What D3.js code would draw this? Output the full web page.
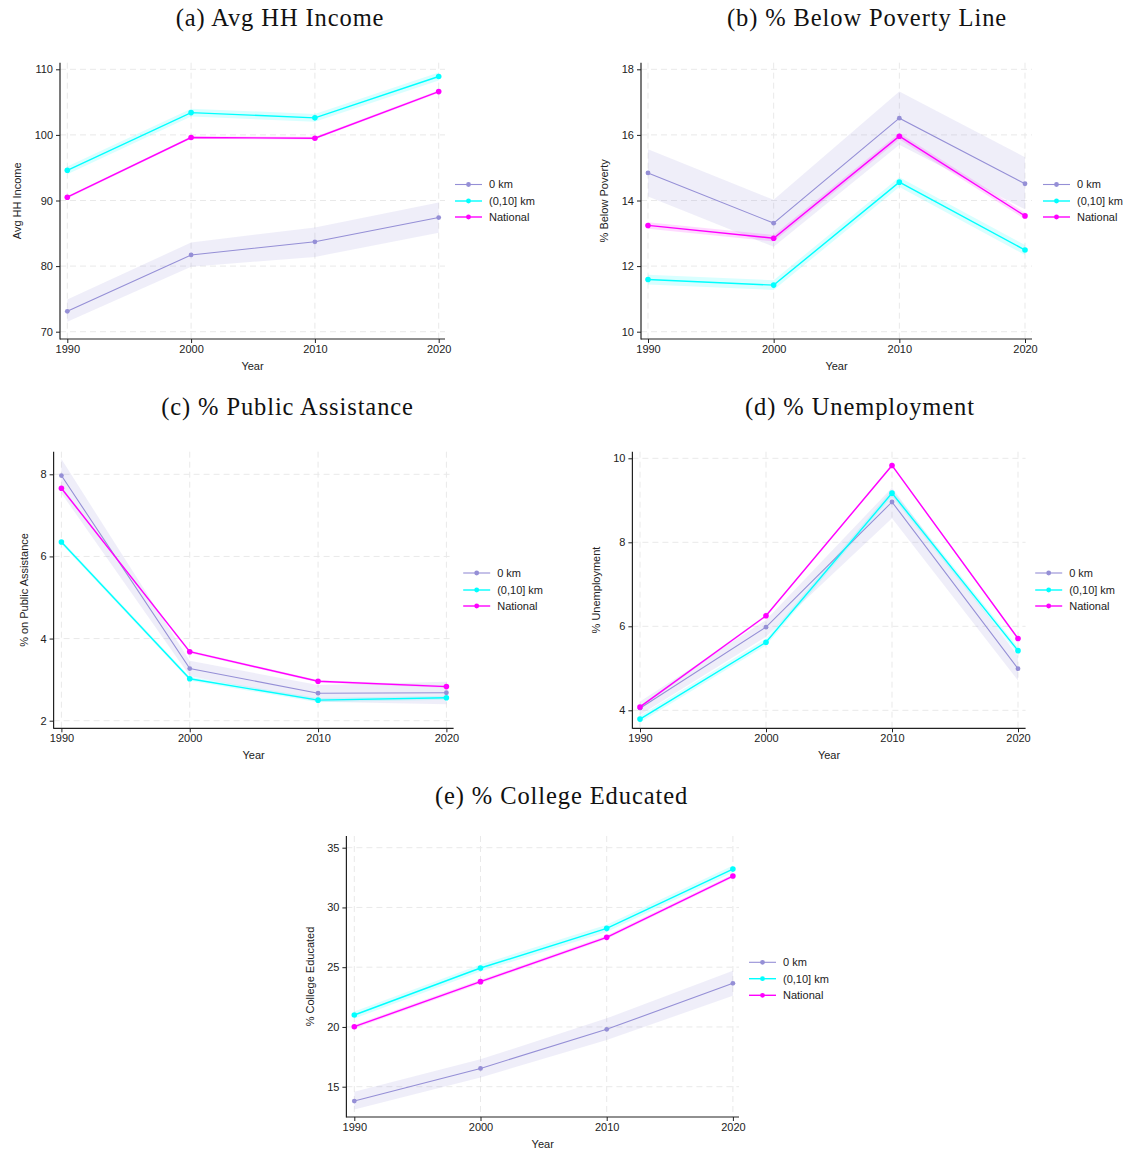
<!DOCTYPE html>
<html>
<head>
<meta charset="utf-8">
<title>Neighbourhood trends</title>
<script src="https://cdn.jsdelivr.net/npm/d3@7"></script>
<style>
  body { margin:0; background:#fff; }
  svg { display:block; }
  .tick text { font-family:"Liberation Sans", Arial, sans-serif; font-size:11px; fill:#222; }
  .tick line { stroke:#222; }
  .lab { font-family:"Liberation Sans", Arial, sans-serif; font-size:11px; fill:#222; }
  .ttl { font-family:"Liberation Serif", "DejaVu Serif", serif; font-size:24.5px; letter-spacing:0.9px; fill:#111; }
</style>
</head>
<body>
<div id="chart"></div>
<script>
var years = [1990, 2000, 2010, 2020];
var seriesNames = ["0 km", "(0,10] km", "National"];
var colors = ["#958fd6", "#00ffff", "#ff00ff"];
var bandColors = ["rgba(149,143,214,0.15)", "rgba(0,255,255,0.15)", "rgba(255,0,255,0.15)"];

// (a) avg household income
var incomeZero = [73.1, 81.7, 83.7, 87.4];
var incomeZeroLo = [71.5, 79.9, 81.4, 85.1];
var incomeZeroHi = [74.9, 83.6, 85.9, 89.7];
var incomeNear = [94.6, 103.4, 102.6, 108.9];
var incomeNearLo = [94.0, 102.8, 102.0, 108.3];
var incomeNearHi = [95.2, 104.0, 103.2, 109.5];
var incomeNat = [90.5, 99.6, 99.5, 106.6];
var incomeNatLo = [90.3, 99.4, 99.3, 106.4];
var incomeNatHi = [90.7, 99.8, 99.7, 106.8];
var incomeTicks = [70, 80, 90, 100, 110];

// (b) below poverty
var povZero = [14.84, 13.31, 16.51, 14.51];
var povZeroLo = [14.12, 12.59, 15.70, 13.73];
var povZeroHi = [15.56, 14.02, 17.32, 15.32];
var povNear = [11.59, 11.42, 14.56, 12.49];
var povNearLo = [11.44, 11.27, 14.41, 12.34];
var povNearHi = [11.74, 11.57, 14.71, 12.64];
var povNat = [13.24, 12.85, 15.96, 13.53];
var povNatLo = [13.14, 12.75, 15.86, 13.43];
var povNatHi = [13.34, 12.95, 16.06, 13.63];
var povTicks = [10, 12, 14, 16, 18];

// (c) public assistance
var paZero = [7.97, 3.27, 2.67, 2.68];
var paZeroLo = [7.54, 3.09, 2.46, 2.40];
var paZeroHi = [8.37, 3.46, 2.87, 2.95];
var paNear = [6.35, 3.02, 2.50, 2.56];
var paNearLo = [6.30, 2.97, 2.45, 2.51];
var paNearHi = [6.40, 3.07, 2.55, 2.61];
var paNat = [7.66, 3.68, 2.96, 2.83];
var paNatLo = [7.63, 3.65, 2.93, 2.80];
var paNatHi = [7.69, 3.71, 2.99, 2.86];
var paTicks = [2, 4, 6, 8];

// (d) unemployment
var unZero = [4.05, 5.98, 8.96, 4.99];
var unZeroLo = [3.89, 5.75, 8.57, 4.71];
var unZeroHi = [4.21, 6.15, 9.30, 5.29];
var unNear = [3.79, 5.62, 9.17, 5.42];
var unNearLo = [3.71, 5.54, 9.09, 5.34];
var unNearHi = [3.87, 5.70, 9.25, 5.50];
var unNat = [4.08, 6.25, 9.83, 5.71];
var unNatLo = [4.05, 6.22, 9.80, 5.68];
var unNatHi = [4.11, 6.28, 9.86, 5.74];
var unTicks = [4, 6, 8, 10];

// (e) college educated
var colZero = [13.80, 16.53, 19.80, 23.65];
var colZeroLo = [13.10, 15.78, 18.90, 22.61];
var colZeroHi = [14.58, 17.29, 20.72, 24.71];
var colNear = [21.00, 24.93, 28.25, 33.21];
var colNearLo = [20.70, 24.63, 27.95, 32.91];
var colNearHi = [21.30, 25.23, 28.55, 33.51];
var colNat = [20.02, 23.79, 27.50, 32.63];
var colNatLo = [19.87, 23.64, 27.35, 32.48];
var colNatHi = [20.17, 23.94, 27.65, 32.78];
var colTicks = [15, 20, 25, 30, 35];

var panels = [
  { title:"(a) Avg HH Income", ylab:"Avg HH Income", ticks:incomeTicks,
    vals:[incomeZero, incomeNear, incomeNat], lo:[incomeZeroLo, incomeNearLo, incomeNatLo], hi:[incomeZeroHi, incomeNearHi, incomeNatHi],
    axisX:60, top:62.7, bottom:339, right:445, x0:67.3, x1:438.7, y0:331.7, y1:69.3,
    ylabX:17, titleX:280, titleY:26, legX:455, rows:[184.5, 201, 217] },
  { title:"(b) % Below Poverty Line", ylab:"% Below Poverty", ticks:povTicks,
    vals:[povZero, povNear, povNat], lo:[povZeroLo, povNearLo, povNatLo], hi:[povZeroHi, povNearHi, povNatHi],
    axisX:641, top:62.7, bottom:339, right:1032, x0:648, x1:1025, y0:331.7, y1:69.3,
    ylabX:604, titleX:867, titleY:26, legX:1043, rows:[184.5, 201, 217] },
  { title:"(c) % Public Assistance", ylab:"% on Public Assistance", ticks:paTicks,
    vals:[paZero, paNear, paNat], lo:[paZeroLo, paNearLo, paNatLo], hi:[paZeroHi, paNearHi, paNatHi],
    axisX:53.6, top:451.7, bottom:728.3, right:453.6, x0:61.4, x1:446.4, y0:720.7, y1:474.3,
    ylabX:24, titleX:287.5, titleY:415, legX:463.2, rows:[573, 590, 606] },
  { title:"(d) % Unemployment", ylab:"% Unemployment", ticks:unTicks,
    vals:[unZero, unNear, unNat], lo:[unZeroLo, unNearLo, unNatLo], hi:[unZeroHi, unNearHi, unNatHi],
    axisX:632.4, top:451.7, bottom:728.3, right:1025.6, x0:640, x1:1018, y0:710.3, y1:458.3,
    ylabX:596, titleX:860, titleY:415, legX:1035.2, rows:[573, 590, 606] },
  { title:"(e) % College Educated", ylab:"% College Educated", ticks:colTicks,
    vals:[colZero, colNear, colNat], lo:[colZeroLo, colNearLo, colNatLo], hi:[colZeroHi, colNearHi, colNatHi],
    axisX:346.4, top:836, bottom:1117, right:739, x0:354.3, x1:732.9, y0:1086.7, y1:847.7,
    ylabX:310, titleX:561.5, titleY:804, legX:749, rows:[962.3, 978.7, 995.3] }
];

var svg = d3.select("#chart").append("svg")
  .attr("width", 1130)
  .attr("height", 1152);

panels.forEach(function(p) {
  var g = svg.append("g");
  var x = d3.scaleLinear().domain([years[0], years[years.length-1]]).range([p.x0, p.x1]);
  var y = d3.scaleLinear().domain([p.ticks[0], p.ticks[p.ticks.length-1]]).range([p.y0, p.y1]);

  // dashed grid
  g.selectAll(".hg").data(p.ticks).enter().append("line")
    .attr("x1", p.axisX).attr("x2", p.right)
    .attr("y1", function(d){ return y(d); }).attr("y2", function(d){ return y(d); })
    .attr("stroke", "#e9e9e9").attr("stroke-dasharray", "6,4");
  g.selectAll(".vg").data(years).enter().append("line")
    .attr("x1", function(d){ return x(d); }).attr("x2", function(d){ return x(d); })
    .attr("y1", p.top).attr("y2", p.bottom)
    .attr("stroke", "#e9e9e9").attr("stroke-dasharray", "6,4");

  // confidence bands
  for (var s = 0; s < 3; s++) {
    var band = d3.area()
      .x(function(d, i){ return x(years[i]); })
      .y0(function(d, i){ return y(p.lo[s][i]); })
      .y1(function(d, i){ return y(p.hi[s][i]); });
    g.append("path").datum(years).attr("d", band).attr("fill", bandColors[s]);
  }
  // lines and markers
  for (var s = 0; s < 3; s++) {
    var vals = p.vals[s];
    var line = d3.line()
      .x(function(d, i){ return x(years[i]); })
      .y(function(d){ return y(d); });
    g.append("path").datum(vals).attr("d", line)
      .attr("fill", "none").attr("stroke", colors[s]).attr("stroke-width", s == 0 ? 1.1 : 1.4);
    g.selectAll(".pt" + s).data(vals).enter().append("circle")
      .attr("cx", function(d, i){ return x(years[i]); })
      .attr("cy", function(d){ return y(d); })
      .attr("r", s == 0 ? 2.4 : 2.8)
      .attr("fill", colors[s]);
  }

  // axes
  var yAxis = d3.axisLeft(y).tickValues(p.ticks).tickFormat(d3.format("d")).tickSize(4).tickPadding(3);
  g.append("g").attr("transform", "translate(" + p.axisX + ",0)").call(yAxis)
    .call(function(a){ a.select(".domain").remove(); });
  var xAxis = d3.axisBottom(x).tickValues(years).tickFormat(d3.format("d")).tickSize(4).tickPadding(2);
  g.append("g").attr("transform", "translate(0," + p.bottom + ")").call(xAxis)
    .call(function(a){ a.select(".domain").remove(); });
  g.append("line").attr("x1", p.axisX).attr("x2", p.axisX).attr("y1", p.top).attr("y2", p.bottom + 0.5)
    .attr("stroke", "#222").attr("stroke-width", 1.2);
  g.append("line").attr("x1", p.axisX).attr("x2", p.right).attr("y1", p.bottom).attr("y2", p.bottom)
    .attr("stroke", "#222").attr("stroke-width", 1.2);

  // labels
  g.append("text").attr("class", "lab")
    .attr("x", (p.axisX + p.right) / 2).attr("y", p.bottom + 31)
    .attr("text-anchor", "middle").text("Year");
  g.append("text").attr("class", "lab")
    .attr("transform", "translate(" + p.ylabX + "," + ((p.top + p.bottom) / 2) + ") rotate(-90)")
    .attr("dy", "0.35em").attr("text-anchor", "middle").text(p.ylab);
  svg.append("text").attr("class", "ttl")
    .attr("x", p.titleX).attr("y", p.titleY)
    .attr("text-anchor", "middle").text(p.title);

  // legend
  seriesNames.forEach(function(name, s) {
    var ly = p.rows[s];
    g.append("line").attr("x1", p.legX).attr("x2", p.legX + 27).attr("y1", ly).attr("y2", ly)
      .attr("stroke", colors[s]).attr("stroke-width", s == 0 ? 1.1 : 1.4);
    g.append("circle").attr("cx", p.legX + 13.5).attr("cy", ly).attr("r", 2.4).attr("fill", colors[s]);
    g.append("text").attr("class", "lab").attr("x", p.legX + 34).attr("y", ly)
      .attr("dy", "0.35em").text(name);
  });
});
</script>
</body>
</html>
